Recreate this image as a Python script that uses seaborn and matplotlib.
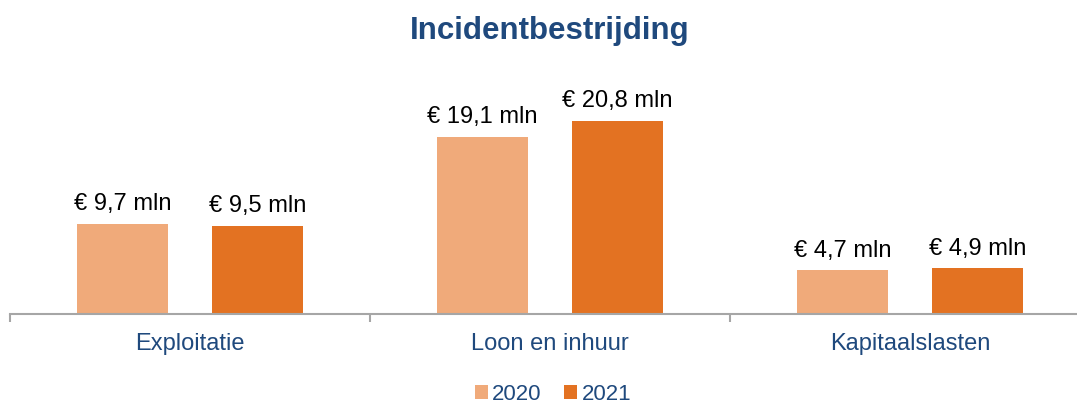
import pandas as pd
import matplotlib.pyplot as plt
import seaborn as sns
from matplotlib.ticker import FixedLocator

# data
categorieen = ["Exploitatie", "Loon en inhuur", "Kapitaalslasten"]
jaren = ["2020", "2021"]
waarden_2020 = [9.7, 19.1, 4.7]
waarden_2021 = [9.5, 20.8, 4.9]

df = pd.DataFrame({
    "categorie": categorieen * 2,
    "jaar": ["2020"] * 3 + ["2021"] * 3,
    "waarde": waarden_2020 + waarden_2021,
})

blauw = "#1F497D"
licht = "#F0AA7A"
donker = "#E37222"
grijs = "#A6A6A6"

sns.set_style("white")
plt.rcParams["font.family"] = ["Liberation Sans", "DejaVu Sans"]

fig = plt.figure(figsize=(10.77, 4.06), dpi=100)
ax = fig.add_axes([10 / 1077, 91 / 406, 1080 / 1077, 275 / 406])

sns.barplot(data=df, x="categorie", y="waarde", hue="jaar", hue_order=jaren,
            palette=[licht, donker], saturation=1, width=0.75, gap=0.33,
            linewidth=0, ax=ax)

for cont in ax.containers:
    labels = [f"€ {v:.1f} mln".replace(".", ",") for v in cont.datavalues]
    ax.bar_label(cont, labels=labels, padding=7, fontsize=17, color="black")

ax.set_xlim(-0.5, 2.5)
ax.set_ylim(0, 29.6)
ax.set_xlabel("")
ax.set_ylabel("")
ax.set_yticks([])
for s in ["left", "right", "top"]:
    ax.spines[s].set_visible(False)
ax.spines["bottom"].set_color(grijs)
ax.spines["bottom"].set_linewidth(1.5)

ax.tick_params(axis="x", which="major", bottom=True, length=0, pad=13,
               labelsize=17, labelcolor=blauw)
ax.xaxis.set_minor_locator(FixedLocator([-0.5, 0.5, 1.5, 2.5]))
ax.tick_params(axis="x", which="minor", bottom=True, length=6, width=1.5,
               color=grijs, direction="out")

sns.move_legend(ax, "center", bbox_to_anchor=(553 / 1077, 11 / 406),
                bbox_transform=fig.transFigure, ncol=2, frameon=False,
                title=None, fontsize=16, handlelength=0.6, handleheight=0.6,
                handletextpad=0.2, columnspacing=1.0)
for t in ax.get_legend().get_texts():
    t.set_color(blauw)

fig.text(550 / 1077, 1 - 39 / 406, "Incidentbestrijding", ha="center",
         va="baseline", fontsize=22.5, fontweight="bold", color=blauw)

fig.savefig("out.png", dpi=100)
